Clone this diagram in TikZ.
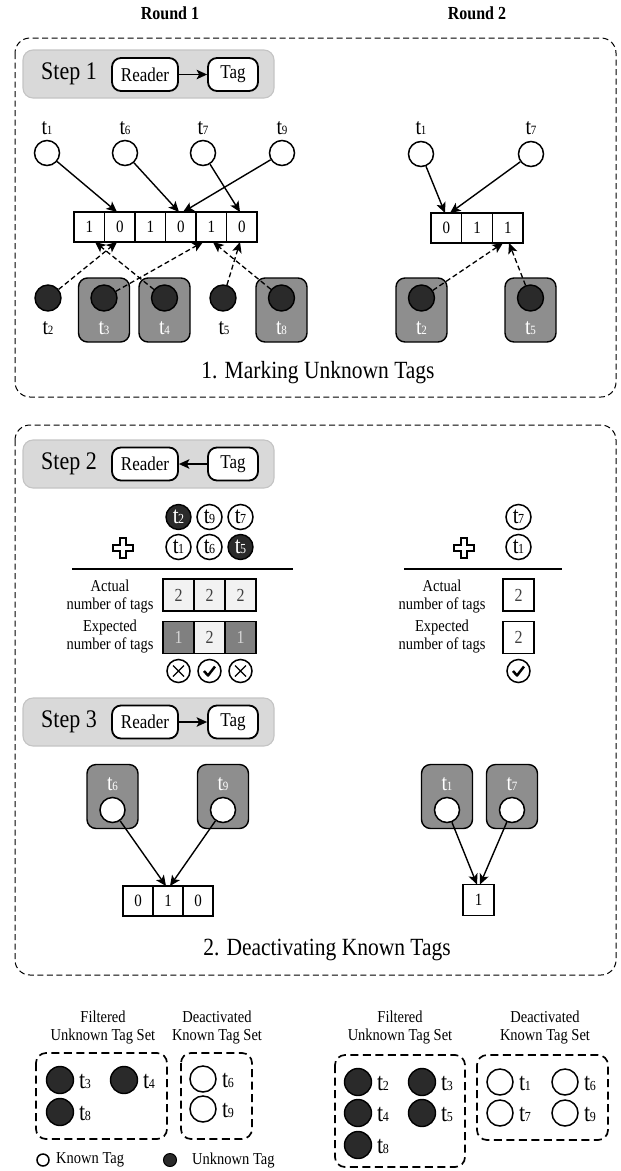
\documentclass[tikz,border=0pt]{standalone}
\usepackage{fontspec}
\setmainfont{Liberation Serif}
\usetikzlibrary{arrows.meta}

\definecolor{stepfill}{HTML}{D9D9D9}
\definecolor{stepdraw}{HTML}{C4C4C4}
\definecolor{taggray}{HTML}{8E8E8E}
\definecolor{darktag}{HTML}{2A2A2A}
\definecolor{lightcell}{HTML}{F2F2F2}
\definecolor{excell}{HTML}{808080}
\definecolor{extext}{HTML}{D6D6D6}
\definecolor{celltext}{HTML}{404040}

\newcommand\vs[1]{\scalebox{1}[1.15]{#1}}
\newcommand\fs[1]{\fontsize{#1}{#1}\selectfont}
\newcommand\tg[3]{\vs{\fs{#1}t\kern-0.4pt{\fs{#2}#3}}}
\newcommand\txt[2]{\vs{\fs{#1}#2}}
\newcommand\twol[3]{\vs{\fontsize{#1}{#2}\selectfont\begin{tabular}{@{}c@{}}#3\end{tabular}}}

\tikzset{
  outerbox/.style={draw, line width=1pt, dash pattern=on 6pt off 3.5pt, rounded corners=15pt},
  stepbg/.style={draw=stepdraw, fill=stepfill, line width=1.1pt, rounded corners=10pt},
  rbox/.style={draw, line width=1.8pt, fill=white, rounded corners=9pt, minimum height=33pt, inner sep=0pt},
  ktag/.style={circle, draw, line width=1.5pt, fill=white, minimum size=25pt, inner sep=0pt},
  utag/.style={circle, draw, line width=1.4pt, fill=darktag, minimum size=26pt, inner sep=0pt},
  gbox/.style={draw, line width=1.4pt, fill=taggray, rounded corners=9pt, minimum width=51pt, minimum height=64pt, inner sep=0pt},
  cell/.style={draw, line width=1.4pt, fill=white, minimum width=30.5pt, minimum height=30pt, inner sep=0pt},
  acell/.style={draw, line width=1.6pt, fill=lightcell, minimum width=31pt, minimum height=32pt, inner sep=0pt, text=celltext},
  ecell/.style={acell, fill=excell, text=extext},
  arr/.style={-{Stealth[length=10.5pt,width=9.5pt,inset=2.5pt]}, line width=1.4pt},
  darr/.style={-{Stealth[length=10.5pt,width=9.5pt,inset=2.5pt]}, line width=1.3pt, dash pattern=on 5pt off 3pt},
  setbox/.style={draw, line width=1.7pt, dash pattern=on 8pt off 4.5pt, rounded corners=10pt},
  lab/.style={inner sep=0pt},
  chk/.pic={\draw[line width=1.5pt] (0,0) circle (11.5);
            \draw[line width=2.5pt, line join=round] (-5.5,0) -- (-1.5,4.5) -- (5.5,-4.5);},
  crs/.pic={\draw[line width=1.5pt] (0,0) circle (11.5);
            \draw[line width=1.1pt] (-5.5,-5.5) -- (5.5,5.5) (-5.5,5.5) -- (5.5,-5.5);},
}

\begin{document}
\begin{tikzpicture}[x=1pt,y=-1pt]
\useasboundingbox (0,0) rectangle (621,1171);

% ---------------- Round titles
\node[lab] (rd1) at (170,13) {\vs{\fs{16}\bfseries Round 1}};
\node[lab] (rd2) at (477,13) {\vs{\fs{16}\bfseries Round 2}};

% ================= Box 1
\draw[outerbox] (15,38) rectangle (616,397);
\draw[stepbg] (23,50) rectangle (274,98);
\node[lab] (s1) at (69,74) {\txt{22}{Step 1}};
\node[rbox, minimum width=66pt] (r1) at (145,74.5) {\txt{17}{Reader}};
\node[rbox, minimum width=50pt] (g1) at (233,74.5) {\txt{17}{Tag}};
\draw[arr] (r1) -- (g1);

% Round 1, step 1: known tags
\foreach \n/\x in {1/47,6/125,7/203,9/282}{
  \node[ktag] (k\n) at (\x,153) {};
  \node[lab] (lk\n) at (\x,128) {\tg{20}{11}{\n}};
}
\foreach \v [count=\i] in {1,0,1,0,1,0}{
  \node[cell] (a\i) at ({74+30.5*(\i-0.5)},227) {\txt{15}{\v}};
}
\coordinate (pk1) at (117,212);
\coordinate (pk6) at (179,212);
\coordinate (pk9) at (183,212);
\coordinate (pk7) at (240,212);
\draw[arr] (k1) -- (pk1);
\draw[arr] (k6) -- (pk6);
\draw[arr] (k9) -- (pk9);
\draw[arr] (k7) -- (pk7);

% unknown tags
\node[gbox] (b3) at (104,310) {};
\node[gbox] (b4) at (164.5,310) {};
\node[gbox] (b8) at (281.5,310) {};
\node[utag] (u2) at (48,298) {};
\node[utag] (u3) at (104,298) {};
\node[utag] (u4) at (164.5,298) {};
\node[utag] (u5) at (223,298) {};
\node[utag] (u8) at (281.5,298) {};
\node[lab] (lu2) at (48,328) {\tg{20}{11}{2}};
\node[lab, text=white] (lu3) at (104,328) {\tg{20}{11}{3}};
\node[lab, text=white] (lu4) at (164.5,328) {\tg{20}{11}{4}};
\node[lab] (lu5) at (224,328) {\tg{20}{11}{5}};
\node[lab, text=white] (lu8) at (281.5,328) {\tg{20}{11}{8}};
\coordinate (qu2) at (117,242);
\coordinate (qu3) at (203,242);
\coordinate (qu4) at (95,242);
\coordinate (qu5) at (240,242);
\coordinate (qu8) at (213,242);
\draw[darr] (u2) -- (qu2);
\draw[darr] (u3) -- (qu3);
\draw[darr] (u4) -- (qu4);
\draw[darr] (u5) -- (qu5);
\draw[darr] (u8) -- (qu8);

% Round 2, step 1
\node[ktag] (m1) at (421,154) {};
\node[ktag] (m7) at (531,154) {};
\node[lab] (lm1) at (421,128) {\tg{20}{11}{1}};
\node[lab] (lm7) at (531,128) {\tg{20}{11}{7}};
\foreach \v [count=\i] in {0,1,1}{
  \node[cell, minimum width=30.7pt] (c\i) at ({431+30.7*(\i-0.5)},228) {\txt{15}{\v}};
}
\coordinate (pm1) at (445,213);
\coordinate (pm7) at (450,213);
\draw[arr] (m1) -- (pm1);
\draw[arr] (m7) -- (pm7);
\node[gbox] (n2b) at (421.5,310) {};
\node[gbox] (n5b) at (530.5,310) {};
\node[utag] (n2) at (421.5,298) {};
\node[utag] (n5) at (530.5,298) {};
\node[lab, text=white] (ln2) at (421.5,328) {\tg{20}{11}{2}};
\node[lab, text=white] (ln5) at (530.5,328) {\tg{20}{11}{5}};
\coordinate (qn2) at (503,243);
\coordinate (qn5) at (509,243);
\draw[darr] (n2) -- (qn2);
\draw[darr] (n5) -- (qn5);

\node[lab] (cap1) at (318,373) {\txt{21.5}{1. Marking Unknown Tags}};

% ================= Box 2
\draw[outerbox] (15,425) rectangle (616,975);
\draw[stepbg] (23,440) rectangle (274,488);
\node[lab] (s2) at (69,464) {\txt{22}{Step 2}};
\node[rbox, minimum width=66pt] (r2) at (145,464) {\txt{17}{Reader}};
\node[rbox, minimum width=50pt] (g2) at (233,464) {\txt{17}{Tag}};
\draw[arr] (g2) -- (r2);

% responses round 1
\node[utag, minimum size=25pt, text=white] (e2) at (178.5,517) {\tg{21}{12}{2}};
\node[ktag] (e9) at (209.5,517) {\tg{21}{12}{9}};
\node[ktag] (e7) at (240.5,517) {\tg{21}{12}{7}};
\node[ktag] (e1) at (178.5,547) {\tg{21}{12}{1}};
\node[ktag] (e6) at (209.5,547) {\tg{21}{12}{6}};
\node[utag, minimum size=25pt, text=white] (e5) at (240.5,547) {\tg{21}{12}{5}};
\draw[line width=1.3pt] (123,548) ++(-3,-10) -- ++(6,0) -- ++(0,7) -- ++(7,0) -- ++(0,6) -- ++(-7,0) -- ++(0,7) -- ++(-6,0) -- ++(0,-7) -- ++(-7,0) -- ++(0,-6) -- ++(7,0) -- cycle;
\draw[line width=1.6pt] (72,569) -- (293,569);
\node[lab] (act1) at (110,597) {\twol{14.5}{15}{Actual\\number of tags}};
\node[lab] (exp1) at (110,637) {\twol{14.5}{15}{Expected\\number of tags}};
\node[acell] (x1) at (178.5,595) {\txt{16}{2}};
\node[acell] (x2) at (209.5,595) {\txt{16}{2}};
\node[acell] (x3) at (240.5,595) {\txt{16}{2}};
\node[ecell] (y1) at (178.5,637.5) {\txt{16}{1}};
\node[acell] (y2) at (209.5,637.5) {\txt{16}{2}};
\node[ecell] (y3) at (240.5,637.5) {\txt{16}{1}};
\pic at (178.5,671) {crs};
\pic at (209.5,671) {chk};
\pic at (240.5,671) {crs};

% responses round 2
\node[ktag] (f7) at (518.5,517) {\tg{21}{12}{7}};
\node[ktag] (f1) at (518.5,547) {\tg{21}{12}{1}};
\draw[line width=1.3pt] (464,548) ++(-3,-10) -- ++(6,0) -- ++(0,7) -- ++(7,0) -- ++(0,6) -- ++(-7,0) -- ++(0,7) -- ++(-6,0) -- ++(0,-7) -- ++(-7,0) -- ++(0,-6) -- ++(7,0) -- cycle;
\draw[line width=1.6pt] (404,569) -- (562,569);
\node[lab] (act2) at (442,597) {\twol{14.5}{15}{Actual\\number of tags}};
\node[lab] (exp2) at (442,637) {\twol{14.5}{15}{Expected\\number of tags}};
\node[acell, fill=white] (z1) at (518.5,595) {\txt{16}{2}};
\node[acell, fill=white] (z2) at (518.5,637.5) {\txt{16}{2}};
\pic at (518.5,671) {chk};

% Step 3
\draw[stepbg] (23,698) rectangle (274,746);
\node[lab] (s3) at (69,722) {\txt{22}{Step 3}};
\node[rbox, minimum width=66pt] (r3) at (145,722) {\txt{17}{Reader}};
\node[rbox, minimum width=50pt] (g3) at (233,722) {\txt{17}{Tag}};
\draw[arr] (r3) -- (g3);

\node[gbox] (h6b) at (112.5,796.5) {};
\node[gbox] (h9b) at (223,796.5) {};
\node[lab, text=white] (lh6) at (112.5,784) {\tg{20}{11}{6}};
\node[lab, text=white] (lh9) at (223,784) {\tg{20}{11}{9}};
\node[ktag] (h6) at (112.5,810) {};
\node[ktag] (h9) at (223,810) {};
\foreach \v [count=\i] in {0,1,0}{
  \node[cell, minimum width=30pt] (d\i) at ({123+30*(\i-0.5)},901) {\txt{15}{\v}};
}
\coordinate (ph6) at (166,886);
\coordinate (ph9) at (170,886);
\draw[arr] (h6) -- (ph6);
\draw[arr] (h9) -- (ph9);

\node[gbox] (j1b) at (447,796.5) {};
\node[gbox] (j7b) at (512,796.5) {};
\node[lab, text=white] (lj1) at (447,784) {\tg{20}{11}{1}};
\node[lab, text=white] (lj7) at (512,784) {\tg{20}{11}{7}};
\node[ktag] (j1) at (447,810) {};
\node[ktag] (j7) at (512,810) {};
\node[cell, minimum width=31pt, minimum height=31pt] (w1) at (478.5,900) {\txt{15}{1}};
\coordinate (pj1) at (477,884.5);
\coordinate (pj7) at (480,884.5);
\draw[arr] (j1) -- (pj1);
\draw[arr] (j7) -- (pj7);

\node[lab] (cap2) at (327,950) {\txt{21.5}{2. Deactivating Known Tags}};

% ================= Legend / result sets
\node[lab] (fu1) at (103,1028) {\twol{14.5}{15.6}{Filtered\\Unknown Tag Set}};
\node[lab] (dk1) at (217,1028) {\twol{14.5}{15.6}{Deactivated\\Known Tag Set}};
\draw[setbox] (36,1053) rectangle (167,1139);
\draw[setbox] (181,1053) rectangle (252,1139);
\node[utag, minimum size=27pt] (v3) at (60,1080) {};
\node[utag, minimum size=27pt] (v4) at (124,1080) {};
\node[utag, minimum size=27pt] (v8) at (60,1112) {};
\node[lab, anchor=west] (lv3) at (79,1081) {\tg{22}{12}{3}};
\node[lab, anchor=west] (lv4) at (143,1081) {\tg{22}{12}{4}};
\node[lab, anchor=west] (lv8) at (79,1113) {\tg{22}{12}{8}};
\node[ktag, minimum size=26pt, line width=1.5pt] (o6) at (203,1079) {};
\node[ktag, minimum size=26pt, line width=1.5pt] (o9) at (203,1109) {};
\node[lab, anchor=west] (lo6) at (222,1080) {\tg{22}{12}{6}};
\node[lab, anchor=west] (lo9) at (222,1110) {\tg{22}{12}{9}};

\node[circle, draw, line width=1.5pt, minimum size=12pt, inner sep=0pt] (kl) at (43,1160) {};
\node[lab, anchor=west] (klt) at (56,1160) {\txt{14.5}{Known Tag}};
\node[circle, draw, fill=darktag, line width=1pt, minimum size=13pt, inner sep=0pt] (ul) at (170,1160) {};
\node[lab, anchor=west] (ult) at (192,1160) {\txt{14.5}{Unknown Tag}};

\node[lab] (fu2) at (400,1028) {\twol{14.5}{15.6}{Filtered\\Unknown Tag Set}};
\node[lab] (dk2) at (545,1028) {\twol{14.5}{15.6}{Deactivated\\Known Tag Set}};
\draw[setbox] (335,1055) rectangle (465,1167);
\draw[setbox] (477,1055) rectangle (608,1140);
\foreach \n/\x/\y in {2/358/1082,3/422/1082,4/358/1113,5/422/1113,8/358/1145}{
  \node[utag, minimum size=27pt] (vv\n) at (\x,\y) {};
  \node[lab, anchor=west] (lvv\n) at (\x+19,\y+1) {\tg{22}{12}{\n}};
}
\foreach \n/\x/\y in {1/500/1082,6/565/1082,7/500/1113,9/565/1113}{
  \node[ktag, minimum size=26pt, line width=1.5pt] (oo\n) at (\x,\y) {};
  \node[lab, anchor=west] (loo\n) at (\x+19,\y+1) {\tg{22}{12}{\n}};
}
\end{tikzpicture}
\end{document}
